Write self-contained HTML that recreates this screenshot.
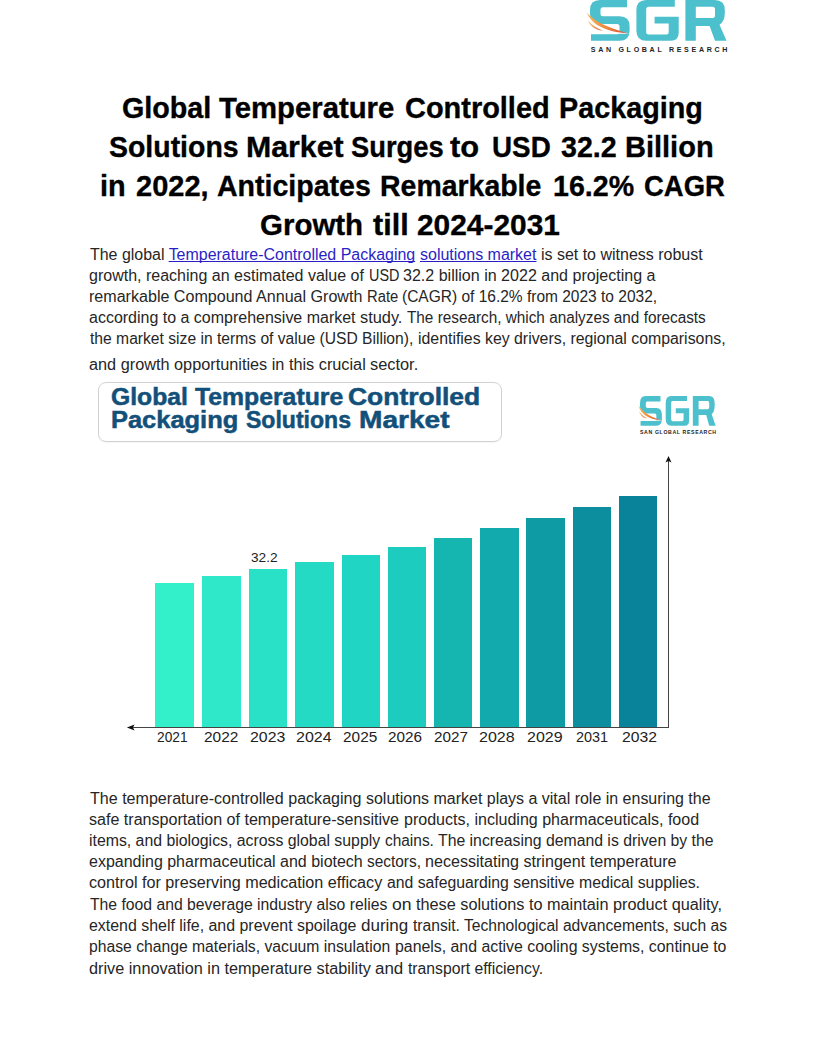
<!DOCTYPE html>
<html><head><meta charset="utf-8"><title>Global Temperature Controlled Packaging Solutions Market</title>
<style>
*{margin:0;padding:0;box-sizing:border-box}
html,body{width:816px;height:1056px;background:#fff;overflow:hidden}
body{position:relative;font-family:"Liberation Sans",sans-serif}
.l{position:absolute;white-space:pre;line-height:1;transform-origin:0 0}
.t{font-size:30px;font-weight:700;color:#000;-webkit-text-stroke:0.35px #000}
.p{font-size:16px;font-weight:400;color:#262626}
.p a{color:#2A1FC6;text-decoration:underline;text-underline-offset:1px;text-decoration-skip-ink:none}
.ct{font-size:23px;font-weight:700;color:#12507A;-webkit-text-stroke:0.5px #12507A}
.yr{font-size:14px;font-weight:400;color:#222}
.val{font-size:12px;font-weight:400;color:#222}
</style></head>
<body>
<svg style="position:absolute;left:0;top:0" width="816" height="1056" viewBox="0 0 816 1056"><defs>
<linearGradient id="swA" x1="0" y1="0" x2="1" y2="0"><stop offset="0" stop-color="#F5B45A"/><stop offset="0.45" stop-color="#EE8A3C"/><stop offset="1" stop-color="#D2443C"/></linearGradient>
<linearGradient id="swB" x1="0" y1="0" x2="1" y2="0"><stop offset="0" stop-color="#F7C870"/><stop offset="1" stop-color="#E0603A"/></linearGradient>
</defs>
<g transform="translate(590,0) scale(1,1)"><path fill="#4CC0CC" d="M37,0 L10,0 Q0,0 0,10 L0,13.9 Q0,23.9 10,23.9 L27,23.9 Q29.5,23.9 29.5,26.4 L29.5,31.8 Q29.5,34.3 27,34.3 L1,34.3 L1,40.8 L29.6,40.8 Q39.6,40.8 39.6,30.8 L39.6,26.2 Q39.6,16.2 29.6,16.2 L13,16.2 Q10.5,16.2 10.5,13.7 L10.5,9.8 Q10.5,7.3 13,7.3 L37,7.3 Z"/>
<path fill="#4CC0CC" d="M84.8,0 L56.4,0 Q46.4,0 46.4,10 L46.4,30.8 Q46.4,40.8 56.4,40.8 L80.7,40.8 Q88.7,40.8 88.7,32.8 L88.7,16.8 L64.6,16.8 L64.6,23.6 L78.7,23.6 L78.7,31.9 Q78.7,34.4 76.2,34.4 L58.7,34.4 Q56.2,34.4 56.2,31.9 L56.2,9.2 Q56.2,6.7 58.7,6.7 L84.8,6.7 Z"/>
<path fill="#4CC0CC" fill-rule="evenodd" d="M95.4,0 L95.4,40.8 L105.8,40.8 L105.8,25.9 L119.6,25.9 L125,40.8 L136.5,40.8 L129.5,24.8 Q134.8,21.5 134.8,13 L134.8,10 Q134.8,0 124.8,0 Z M105.8,6.7 L122.5,6.7 Q125,6.7 125,9.2 L125,15.4 Q125,17.9 122.5,17.9 L105.8,17.9 Z"/>
<path fill="#fff" d="M-3.6,12.2 C3,21 15,29 39.5,33.4 C15,35.5 0,28 -3.6,12.2 Z"/>
<path fill="url(#swA)" d="M-3.2,12.6 C3,20 15,27.5 38.5,33.4 C15,32 1.5,24.5 -3.2,12.6 Z"/>
<path fill="url(#swB)" d="M-1.9,20.6 C2,25 7,28.8 12.8,30.4 C6,30.6 0.5,27 -1.9,20.6 Z"/>
</g>
<text x="590.8" y="52" textLength="136.60000000000002" lengthAdjust="spacing" font-family="Liberation Sans" font-weight="700" font-size="7.1" fill="#1e1e1e">SAN GLOBAL RESEARCH</text>
<g transform="translate(640,396.1) scale(0.5538461538461538,0.7279411764705883)"><path fill="#4CC0CC" d="M37,0 L10,0 Q0,0 0,10 L0,13.9 Q0,23.9 10,23.9 L27,23.9 Q29.5,23.9 29.5,26.4 L29.5,31.8 Q29.5,34.3 27,34.3 L1,34.3 L1,40.8 L29.6,40.8 Q39.6,40.8 39.6,30.8 L39.6,26.2 Q39.6,16.2 29.6,16.2 L13,16.2 Q10.5,16.2 10.5,13.7 L10.5,9.8 Q10.5,7.3 13,7.3 L37,7.3 Z"/>
<path fill="#4CC0CC" d="M84.8,0 L56.4,0 Q46.4,0 46.4,10 L46.4,30.8 Q46.4,40.8 56.4,40.8 L80.7,40.8 Q88.7,40.8 88.7,32.8 L88.7,16.8 L64.6,16.8 L64.6,23.6 L78.7,23.6 L78.7,31.9 Q78.7,34.4 76.2,34.4 L58.7,34.4 Q56.2,34.4 56.2,31.9 L56.2,9.2 Q56.2,6.7 58.7,6.7 L84.8,6.7 Z"/>
<path fill="#4CC0CC" fill-rule="evenodd" d="M95.4,0 L95.4,40.8 L105.8,40.8 L105.8,25.9 L119.6,25.9 L125,40.8 L136.5,40.8 L129.5,24.8 Q134.8,21.5 134.8,13 L134.8,10 Q134.8,0 124.8,0 Z M105.8,6.7 L122.5,6.7 Q125,6.7 125,9.2 L125,15.4 Q125,17.9 122.5,17.9 L105.8,17.9 Z"/>
<path fill="#fff" d="M-3.6,12.2 C3,21 15,29 39.5,33.4 C15,35.5 0,28 -3.6,12.2 Z"/>
<path fill="url(#swA)" d="M-3.2,12.6 C3,20 15,27.5 38.5,33.4 C15,32 1.5,24.5 -3.2,12.6 Z"/>
<path fill="url(#swB)" d="M-1.9,20.6 C2,25 7,28.8 12.8,30.4 C6,30.6 0.5,27 -1.9,20.6 Z"/>
</g>
<text x="640" y="433.5" textLength="76.10000000000002" lengthAdjust="spacing" font-family="Liberation Sans" font-weight="700" font-size="5.2" fill="#1e1e1e">SAN GLOBAL RESEARCH</text>
</svg>
<div class='l t' style='left:121.53px;top:92.7px;transform:scaleX(0.9563)'>Global</div>
<div class='l t' style='left:219.1px;top:92.7px;transform:scaleX(0.9766)'>Temperature</div>
<div class='l t' style='left:405.46px;top:92.7px;transform:scaleX(0.9645)'>Controlled</div>
<div class='l t' style='left:559.07px;top:92.7px;transform:scaleX(0.9584)'>Packaging</div>
<div class='l t' style='left:109.28px;top:131.8px;transform:scaleX(0.9485)'>Solutions</div>
<div class='l t' style='left:245.88px;top:131.8px;transform:scaleX(1.0096)'>Market</div>
<div class='l t' style='left:351.36px;top:131.8px;transform:scaleX(0.9105)'>Surges</div>
<div class='l t' style='left:450.3px;top:131.8px;transform:scaleX(1.0285)'>to</div>
<div class='l t' style='left:492.44px;top:131.8px;transform:scaleX(0.9269)'>USD</div>
<div class='l t' style='left:560.62px;top:131.8px;transform:scaleX(0.9544)'>32.2</div>
<div class='l t' style='left:625.19px;top:131.8px;transform:scaleX(0.9666)'>Billion</div>
<div class='l t' style='left:100.43px;top:170.8px;transform:scaleX(0.9609)'>in</div>
<div class='l t' style='left:135.94px;top:170.8px;transform:scaleX(0.9671)'>2022,</div>
<div class='l t' style='left:217.34px;top:170.8px;transform:scaleX(0.9514)'>Anticipates</div>
<div class='l t' style='left:380.47px;top:170.8px;transform:scaleX(0.9486)'>Remarkable</div>
<div class='l t' style='left:552.8px;top:170.8px;transform:scaleX(0.9528)'>16.2%</div>
<div class='l t' style='left:643.87px;top:170.8px;transform:scaleX(0.9153)'>CAGR</div>
<div class='l t' style='left:260.33px;top:209.6px;transform:scaleX(0.9822)'>Growth</div>
<div class='l t' style='left:373.0px;top:209.6px;transform:scaleX(1.018)'>till</div>
<div class='l t' style='left:416.88px;top:209.6px;transform:scaleX(0.9961)'>2024-2031</div>
<div class='l ct' style='left:110.83px;top:385.6px;transform:scaleX(1.0743)'>Global</div>
<div class='l ct' style='left:194.5px;top:385.6px;transform:scaleX(1.0766)'>Temperature</div>
<div class='l ct' style='left:348.25px;top:385.6px;transform:scaleX(1.1496)'>Controlled</div>
<div class='l ct' style='left:111.29px;top:409.2px;transform:scaleX(1.1062)'>Packaging</div>
<div class='l ct' style='left:245.9px;top:409.2px;transform:scaleX(1.0019)'>Solutions</div>
<div class='l ct' style='left:359.48px;top:409.2px;transform:scaleX(1.2219)'>Market</div>
<div class='l p' style='left:90.0px;top:247.0px;transform:scaleX(0.9971)'>The global <a>Temperature-Controlled Packaging</a> </div>
<div class='l p' style='left:419.6px;top:247.0px;transform:scaleX(0.9996)'><a>solutions market</a> is set to witness robust</div>
<div class='l p' style='left:89.0px;top:268.2px;transform:scaleX(1.0004)'>growth, reaching an estimated value of </div>
<div class='l p' style='left:368.5px;top:268.2px;transform:scaleX(0.8997)'>USD </div>
<div class='l p' style='left:402.8px;top:268.2px;transform:scaleX(1.0028)'>32.2 billion in 2022 and projecting a</div>
<div class='l p' style='left:89.0px;top:289.4px;transform:scaleX(1.0044)'>remarkable Compound Annual Growth </div>
<div class='l p' style='left:366.88px;top:289.4px;transform:scaleX(0.9229)'>Rate </div>
<div class='l p' style='left:402.13px;top:289.4px;transform:scaleX(0.969)'>(CAGR) of 16.2% from 2023 to 2032,</div>
<div class='l p' style='left:89.0px;top:310.3px;transform:scaleX(0.9991)'>according to a comprehensive market </div>
<div class='l p' style='left:359.98px;top:310.3px;transform:scaleX(1.0211)'>study. </div>
<div class='l p' style='left:406.9px;top:310.3px;transform:scaleX(0.9571)'>The research, which analyzes and forecasts</div>
<div class='l p' style='left:90.0px;top:331.0px;transform:scaleX(0.9778)'>the market size in terms of value (USD </div>
<div class='l p' style='left:362.12px;top:331.0px;transform:scaleX(0.9788)'>Billion), </div>
<div class='l p' style='left:417.81px;top:331.0px;transform:scaleX(0.9909)'>identifies key drivers, regional comparisons,</div>
<div class='l p' style='left:88.98px;top:357.4px;transform:scaleX(1.017)'>and growth opportunities in this crucial </div>
<div class='l p' style='left:370.28px;top:357.4px;transform:scaleX(1.0222)'>sector.</div>
<div class='l p' style='left:90.0px;top:791.0px;transform:scaleX(1.0039)'>The temperature-controlled packaging </div>
<div class='l p' style='left:365.9px;top:791.0px;transform:scaleX(0.9985)'>solutions market plays a vital role in ensuring the</div>
<div class='l p' style='left:89.0px;top:811.9px;transform:scaleX(1.0046)'>safe transportation of temperature-sensitive </div>
<div class='l p' style='left:403.5px;top:811.9px;transform:scaleX(1.0024)'>products, including pharmaceuticals, food</div>
<div class='l p' style='left:89.01px;top:832.9px;transform:scaleX(0.9889)'>items, and biologics, across global supply </div>
<div class='l p' style='left:384.54px;top:832.9px;transform:scaleX(0.9642)'>chains. </div>
<div class='l p' style='left:437.7px;top:832.9px;transform:scaleX(0.9867)'>The increasing demand is driven by the</div>
<div class='l p' style='left:89.0px;top:854.0px;transform:scaleX(0.9992)'>expanding pharmaceutical and biotech </div>
<div class='l p' style='left:367.24px;top:854.0px;transform:scaleX(0.9625)'>sectors, </div>
<div class='l p' style='left:425.39px;top:854.0px;transform:scaleX(1.0065)'>necessitating stringent temperature</div>
<div class='l p' style='left:88.99px;top:875.3px;transform:scaleX(1.0093)'>control for preserving medication efficacy </div>
<div class='l p' style='left:386.71px;top:875.3px;transform:scaleX(0.9857)'>and safeguarding sensitive medical supplies.</div>
<div class='l p' style='left:90.0px;top:896.5px;transform:scaleX(0.9832)'>The food and beverage industry also relies </div>
<div class='l p' style='left:391.6px;top:896.5px;transform:scaleX(1.0965)'>on </div>
<div class='l p' style='left:416.0px;top:896.5px;transform:scaleX(1.016)'>these solutions to maintain product quality,</div>
<div class='l p' style='left:89.0px;top:918.0px;transform:scaleX(0.9953)'>extend shelf life, and prevent spoilage </div>
<div class='l p' style='left:360.74px;top:918.0px;transform:scaleX(1.0621)'>during </div>
<div class='l p' style='left:412.7px;top:918.0px;transform:scaleX(0.976)'>transit. Technological advancements, such as</div>
<div class='l p' style='left:89.02px;top:939.4px;transform:scaleX(0.9814)'>phase change materials, vacuum insulation </div>
<div class='l p' style='left:394.51px;top:939.4px;transform:scaleX(0.991)'>panels, and active cooling systems, continue to</div>
<div class='l p' style='left:88.98px;top:960.6px;transform:scaleX(1.0155)'>drive innovation in temperature stability </div>
<div class='l p' style='left:375.24px;top:960.6px;transform:scaleX(1.0584)'>and </div>
<div class='l p' style='left:408.2px;top:960.6px;transform:scaleX(0.9838)'>transport efficiency.</div>
<div class='l yr' style='left:157.02px;top:729.9px;transform:scaleX(0.98)'>2021</div>
<div class='l yr' style='left:203.8px;top:729.9px;transform:scaleX(1.1033)'>2022</div>
<div class='l yr' style='left:250.27px;top:729.9px;transform:scaleX(1.1333)'>2023</div>
<div class='l yr' style='left:295.56px;top:729.9px;transform:scaleX(1.1433)'>2024</div>
<div class='l yr' style='left:342.6px;top:729.9px;transform:scaleX(1.1)'>2025</div>
<div class='l yr' style='left:388.41px;top:729.9px;transform:scaleX(1.0933)'>2026</div>
<div class='l yr' style='left:434.21px;top:729.9px;transform:scaleX(1.09)'>2027</div>
<div class='l yr' style='left:479.45px;top:729.9px;transform:scaleX(1.1467)'>2028</div>
<div class='l yr' style='left:526.86px;top:729.9px;transform:scaleX(1.1433)'>2029</div>
<div class='l yr' style='left:575.67px;top:729.9px;transform:scaleX(1.03)'>2031</div>
<div class='l yr' style='left:621.88px;top:729.9px;transform:scaleX(1.1233)'>2032</div>
<div class='l val' style='left:250.56px;top:551.7px;transform:scaleX(1.1364)'>32.2</div>
<div style="position:absolute;left:97.8px;top:381.6px;width:404px;height:60.8px;border:1.3px solid #d2d2d2;border-radius:8px;box-shadow:0 1px 1px rgba(0,0,0,0.04)"></div>
<svg style="position:absolute;left:0;top:0" width="816" height="1056" viewBox="0 0 816 1056">
<g shape-rendering="crispEdges">
<rect x="155.3" y="582.9" width="38.5" height="144.6" fill="#33F0CB"/>
<rect x="201.9" y="576" width="38.6" height="151.5" fill="#2EE8C9"/>
<rect x="249" y="568.9" width="38.4" height="158.6" fill="#29E1C7"/>
<rect x="295.4" y="562.2" width="38.5" height="165.3" fill="#24DAC5"/>
<rect x="341.9" y="554.5" width="38.2" height="173" fill="#20D5C3"/>
<rect x="387.8" y="546.6" width="38.3" height="180.9" fill="#1BCCBF"/>
<rect x="434.1" y="537.7" width="38.3" height="189.8" fill="#14B6AF"/>
<rect x="480" y="528.2" width="38.6" height="199.3" fill="#12AAAC"/>
<rect x="526.4" y="517.8" width="38.5" height="209.7" fill="#0F9BA4"/>
<rect x="572.5" y="507.3" width="38.8" height="220.2" fill="#0C8E9F"/>
<rect x="618.9" y="496.1" width="38.5" height="231.4" fill="#08839A"/>
</g>
<line x1="132" y1="727.5" x2="668.5" y2="727.5" stroke="#444" stroke-width="1"/>
<line x1="668.5" y1="460" x2="668.5" y2="728" stroke="#444" stroke-width="1"/>
<path d="M126.9 727.5 L134.5 724.4 L133 727.5 L134.5 730.6 Z" fill="#111"/>
<path d="M668.5 456 L665.5 462.5 L668.5 461 L671.5 462.5 Z" fill="#111"/>
</svg>

</body></html>
